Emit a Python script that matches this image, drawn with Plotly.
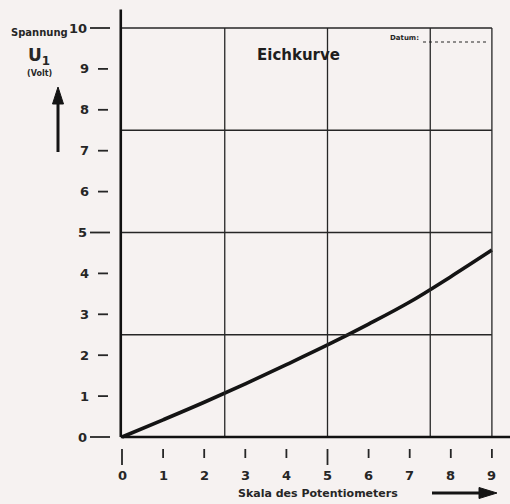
import plotly.graph_objects as go

# data
pot_scale = [0, 1, 2, 3, 4, 5, 6, 7, 8, 9]
voltage = [0, 0.42, 0.85, 1.30, 1.77, 2.25, 2.76, 3.30, 3.92, 4.57]
x_ticks = [0, 1, 2, 3, 4, 5, 6, 7, 8, 9]
x_tick_labels = ["0", "1", "2", "3", "4", "5", "6", "7", "8", "9"]
y_ticks = [0, 1, 2, 3, 4, 5, 6, 7, 8, 9, 10]
y_tick_labels = ["0", "1", "2", "3", "4", "5", "6", "7", "8", "9", "10"]
x_grid = [2.5, 5, 7.5, 9]
y_grid = [2.5, 5, 7.5, 10]

W, H = 510, 504
BG = "#f6f2f1"
INK = "#262626"
FONT = "DejaVu Sans"


def px(x):
    return x / W


def py(y):
    return 1 - y / H


fig = go.Figure()
fig.add_trace(go.Scatter(x=pot_scale, y=voltage, mode="lines",
                         line=dict(color="#141414", width=3.6, shape="spline"),
                         hoverinfo="skip", showlegend=False))

shapes = []
# grid
for gx in x_grid:
    shapes.append(dict(type="line", xref="x", yref="y", x0=gx, x1=gx, y0=0, y1=10,
                       line=dict(color=INK, width=1.3)))
for gy in y_grid:
    shapes.append(dict(type="line", xref="x", yref="y", x0=0, x1=9, y0=gy, y1=gy,
                       line=dict(color=INK, width=1.3)))
# axes
shapes.append(dict(type="line", xref="x", yref="y", x0=-0.03, x1=-0.03, y0=0, y1=10.45,
                   line=dict(color="#111", width=2.6)))
shapes.append(dict(type="line", xref="x", yref="y", x0=-0.03, x1=9.45, y0=0, y1=0,
                   line=dict(color="#111", width=2.6)))
# y ticks (detached dashes)
annotations = []
for v, lab in zip(y_ticks, y_tick_labels):
    long = v in (0, 5, 10)
    x0 = px(90) if long else px(98)
    x1 = px(110) if long else px(108)
    shapes.append(dict(type="line", xref="paper", yref="y", x0=x0, x1=x1, y0=v, y1=v,
                       line=dict(color=INK, width=1.8)))
    annotations.append(dict(xref="paper", yref="y", x=px(89 if long else 91), y=v,
                            text=lab, showarrow=False, xanchor="right", yanchor="middle",
                            font=dict(family=FONT, size=13, color=INK, weight="bold")))
# x ticks (detached)
for v, lab in zip(x_ticks, x_tick_labels):
    long = v in (0, 5)
    shapes.append(dict(type="line", xref="x", yref="paper", x0=v, x1=v,
                       y0=py(449), y1=py(465 if long else 458),
                       line=dict(color=INK, width=1.8)))
    annotations.append(dict(xref="x", yref="paper", x=v, y=py(475), text=lab,
                            showarrow=False, xanchor="center", yanchor="middle",
                            font=dict(family=FONT, size=13, color=INK, weight="bold")))

# datum dotted line
shapes.append(dict(type="line", xref="paper", yref="paper", x0=px(423), x1=px(489),
                   y0=py(42), y1=py(42), line=dict(color=INK, width=1.2, dash="dot")))

# up arrow (y-axis direction)
shapes.append(dict(type="line", xref="paper", yref="paper", x0=px(58), x1=px(58),
                   y0=py(152), y1=py(100), line=dict(color="#141414", width=3)))
shapes.append(dict(type="path", xref="paper", yref="paper",
                   path=f"M {px(52.5)},{py(104)} L {px(58)},{py(87)} L {px(63.5)},{py(104)} Z",
                   fillcolor="#141414", line=dict(color="#141414", width=1)))
# right arrow (x-axis direction)
shapes.append(dict(type="line", xref="paper", yref="paper", x0=px(432), x1=px(482),
                   y0=py(493), y1=py(493), line=dict(color="#141414", width=3)))
shapes.append(dict(type="path", xref="paper", yref="paper",
                   path=f"M {px(479)},{py(487.5)} L {px(497)},{py(493)} L {px(479)},{py(498.5)} Z",
                   fillcolor="#141414", line=dict(color="#141414", width=1)))


def label(x, y, text, size, bold=True, xanchor="center", color=INK):
    f = dict(family=FONT, size=size, color=color)
    if bold:
        f["weight"] = "bold"
    return dict(xref="paper", yref="paper", x=px(x), y=py(y), text=text,
                showarrow=False, xanchor=xanchor, yanchor="middle", font=f)


annotations += [
    label(298, 55, "Eichkurve", 15, color="#1e1e1e"),
    label(421, 38, "Datum:", 7, xanchor="right"),
    label(318, 493, "Skala des Potentiometers", 11),
    label(39, 33, "Spannung", 10),
    label(39, 56, "U<sub>1</sub>", 17),
    label(39, 73, "(Volt)", 8),
]

xpx, ypx = 41.1, 40.9
fig.update_layout(
    width=W, height=H, margin=dict(l=0, r=0, t=0, b=0),
    paper_bgcolor=BG, plot_bgcolor=BG,
    xaxis=dict(range=[-122 / xpx, (W - 122) / xpx], visible=False, fixedrange=True),
    yaxis=dict(range=[-(H - 437) / ypx, 437 / ypx], visible=False, fixedrange=True),
    shapes=shapes, annotations=annotations, showlegend=False,
)
fig.write_html("out.html", config={"displayModeBar": False},
               post_script="document.body.style.margin='0';document.body.style.overflow='hidden';")
